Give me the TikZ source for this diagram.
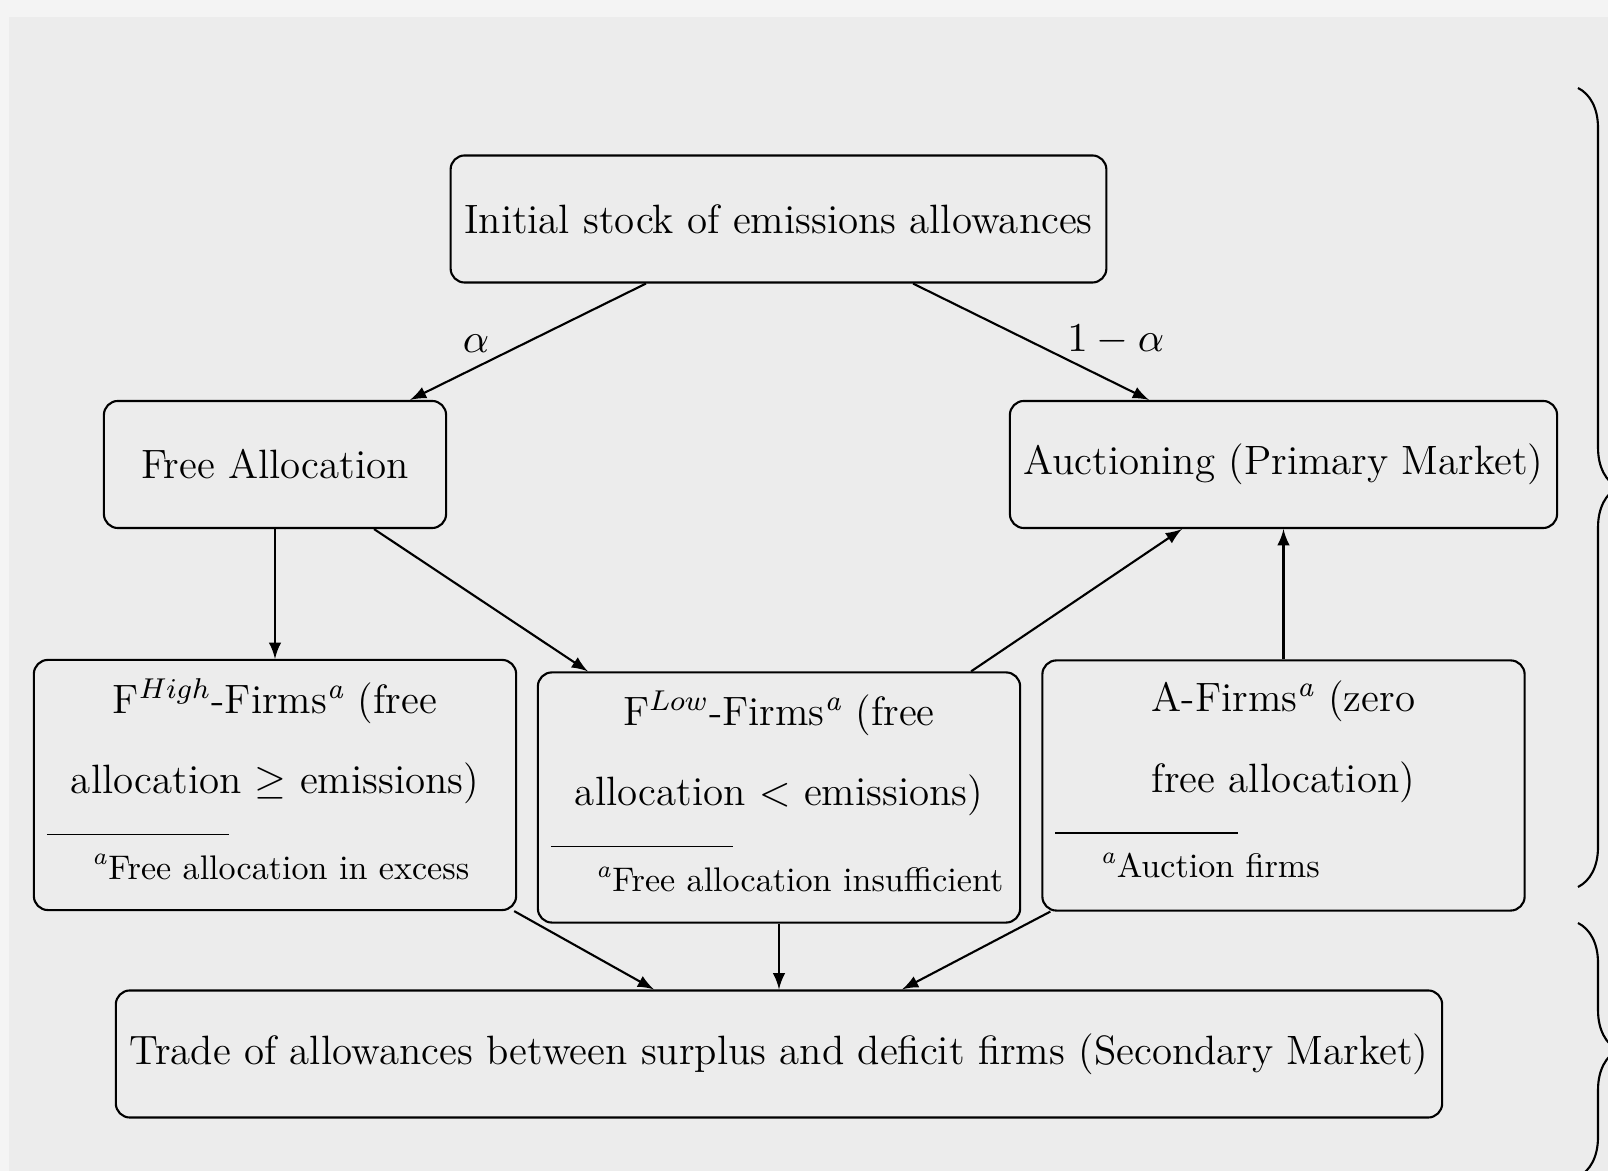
\RequirePackage{fix-cm}
\documentclass[11pt,tikz,border=0pt]{standalone}
\usepackage{amsmath}
\usepackage{amssymb}
\usepackage{setspace}
\usetikzlibrary{decorations.pathreplacing}
\definecolor{pagebg}{RGB}{236,236,236}
\definecolor{stripbg}{RGB}{244,244,244}
\makeatletter
\renewcommand\normalsize{\@setfontsize\normalsize{11.65}{14.1}}
\renewcommand\footnotesize{\@setfontsize\footnotesize{9.7}{11.5}}
\setlength{\footnotesep}{10pt}
\setlength{\skip\footins}{11.5pt plus 4pt minus 2pt}
\setlength{\skip\@mpfootins}{11.5pt plus 4pt minus 2pt}
\makeatother
\setstretch{1.62}
\AtBeginDocument{\normalsize}

\begin{document}
\begin{tikzpicture}[x=0.01cm,y=-0.01cm,>=latex,semithick,
  box/.style={draw,rounded corners,minimum height=1.27cm},
  firm/.style={draw,rounded corners,inner sep=0.13cm,minimum height=2.5cm},
  bracket/.style={decorate,decoration={brace,amplitude=0.4cm}}]
\fill[stripbg] (0,0) rectangle (1608,1171);
\fill[pagebg] (9,17) rectangle (1608,1171);
\useasboundingbox (0,0) rectangle (1608,1171);
\node[box] (stock) at (778.5,219) {Initial stock of emissions allowances};
\node[box,minimum width=3.42cm] (free) at (275,464.5) {Free Allocation};
\node[box] (auction) at (1283.5,464.5) {Auctioning (Primary Market)};
\node[firm] (fhigh) at (275,785) {\begin{minipage}{4.56cm}\centering F$^{High}$-Firms\footnote{Free allocation in excess} (free allocation $\geq$ emissions)\end{minipage}};
\node[firm] (flow) at (779,797.5) {\begin{minipage}{4.56cm}\centering F$^{Low}$-Firms\footnote{Free allocation insufficient} (free allocation $<$ emissions)\end{minipage}};
\node[firm] (afirms) at (1283.5,785.5) {\begin{minipage}{4.56cm}\centering A-Firms\footnote{Auction firms} (zero\\ free allocation)\end{minipage}};
\node[box] (trade) at (779,1054) {Trade of allowances between surplus and deficit firms (Secondary Market)};
\draw[->] ([xshift=-1.325cm]stock.south) -- node[pos=0.72,above]{$\alpha$} ([xshift=1.35cm]free.north);
\draw[->] ([xshift=1.345cm]stock.south) -- node[pos=0.8,above=2pt,xshift=4pt]{$1-\alpha$} ([xshift=-1.345cm]auction.north);
\draw[->] (free.south) -- (fhigh.north);
\draw[->] ([xshift=0.99cm]free.south) -- ([xshift=-1.91cm]flow.north);
\draw[->] ([xshift=1.92cm]flow.north) -- ([xshift=-1.015cm]auction.south);
\draw[->] (afirms.north) -- (auction.south);
\draw[->] ([xshift=-0.03cm]fhigh.south east) -- ([xshift=-1.25cm]trade.north);
\draw[->] (flow.south) -- (trade.north);
\draw[->] ([xshift=0.09cm]afirms.south west) -- ([xshift=1.23cm]trade.north);
\draw[bracket] (1578,88) -- (1578,887);
\draw[bracket] (1578,923) -- (1578,1177);
\end{tikzpicture}
\end{document}
